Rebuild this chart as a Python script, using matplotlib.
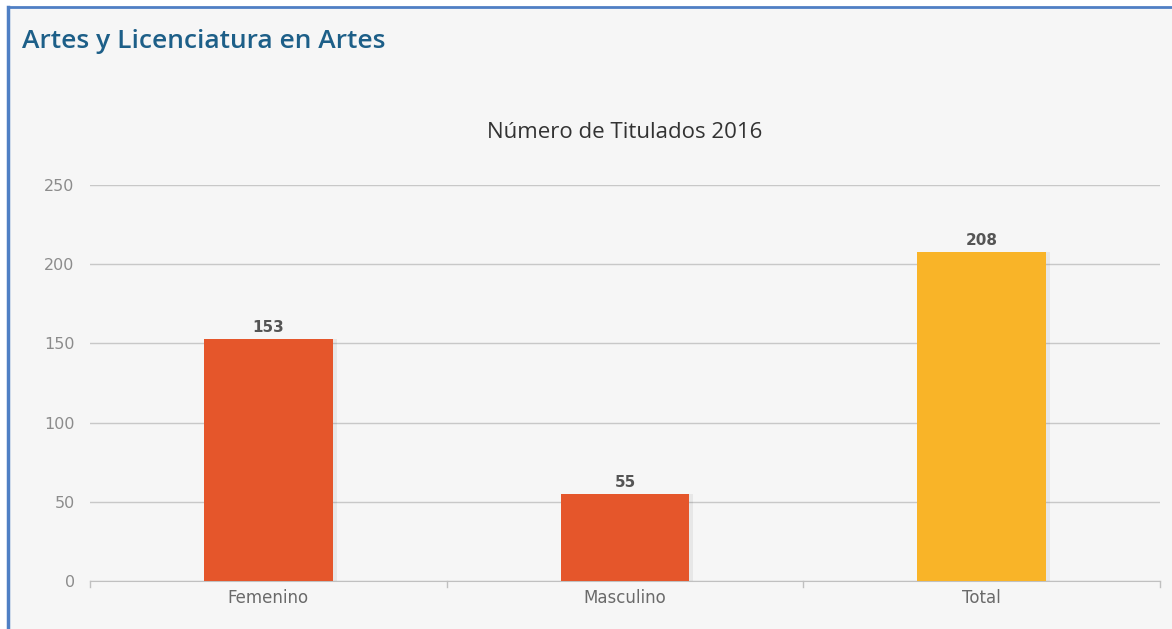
import matplotlib
matplotlib.use("Agg")
import matplotlib.pyplot as plt
from matplotlib.lines import Line2D
from matplotlib.patches import Rectangle

categories = ["Femenino", "Masculino", "Total"]
values = [153, 55, 208]
bar_colors = ["#E5562B", "#E5562B", "#F9B428"]
y_ticks = [0, 50, 100, 150, 200, 250]

W, H = 1172, 629
fig = plt.figure(figsize=(W / 100, H / 100), dpi=100)
fig.patch.set_facecolor("#ffffff")

# panel background and blue frame
fig.add_artist(Rectangle((7 / W, 0), 1 - 7 / W, 1 - 7 / H, transform=fig.transFigure,
                         facecolor="#f6f6f6", edgecolor="none", zorder=-5))
fig.add_artist(Line2D([8 / W, 8 / W], [0, 1 - 7 / H], transform=fig.transFigure,
                      color="#4f7fc4", lw=2.5))
fig.add_artist(Line2D([8 / W, 1], [1 - 7 / H, 1 - 7 / H], transform=fig.transFigure,
                      color="#4f7fc4", lw=2.0))

fig.text(22 / W, 1 - 42 / H, "Artes y Licenciatura en Artes", fontsize=19,
         color="#1d5f88", va="center", ha="left", family="Open Sans",
         fontweight="semibold")

ax = fig.add_axes([90 / W, 1 - 581 / H, (1160 - 90) / W, (581 - 185) / H])
ax.set_facecolor("none")
x = list(range(len(categories)))

# soft shadow behind each bar
for xi, v in zip(x, values):
    ax.bar(xi + 0.012, v, width=0.36, color="#000000", alpha=0.06, zorder=2)
bars = ax.bar(x, values, width=0.36, color=bar_colors, zorder=3)

for xi, v in zip(x, values):
    ax.text(xi, v + 2.5, str(v), ha="center", va="bottom", fontsize=11,
            color="#555555", fontweight="bold", family="DejaVu Sans", zorder=4)

ax.set_xlim(-0.5, len(categories) - 0.5)
ax.set_ylim(0, 250)
ax.set_yticks(y_ticks)
ax.set_yticklabels([str(t) for t in y_ticks], color="#8c8c8c", fontsize=11.5)
ax.set_xticks(x)
ax.set_xticklabels(categories, color="#6a6a6a", fontsize=12)
ax.tick_params(axis="y", length=0, pad=11)
ax.tick_params(axis="x", length=0, pad=6)

# category boundary ticks below the baseline
for b in [-0.5, 0.5, 1.5, 2.5]:
    ax.plot([b, b], [0, -4], color="#c0c0c0", lw=1, clip_on=False, zorder=1)

ax.grid(axis="y", color="#c8c8c8", lw=1, zorder=0)
for s in ["top", "right", "left"]:
    ax.spines[s].set_visible(False)
ax.spines["bottom"].set_color("#c0c0c0")

ax.set_title("Número de Titulados 2016", fontsize=16, color="#333333",
             family="Open Sans", pad=34)

fig.savefig("out.png", dpi=100)
